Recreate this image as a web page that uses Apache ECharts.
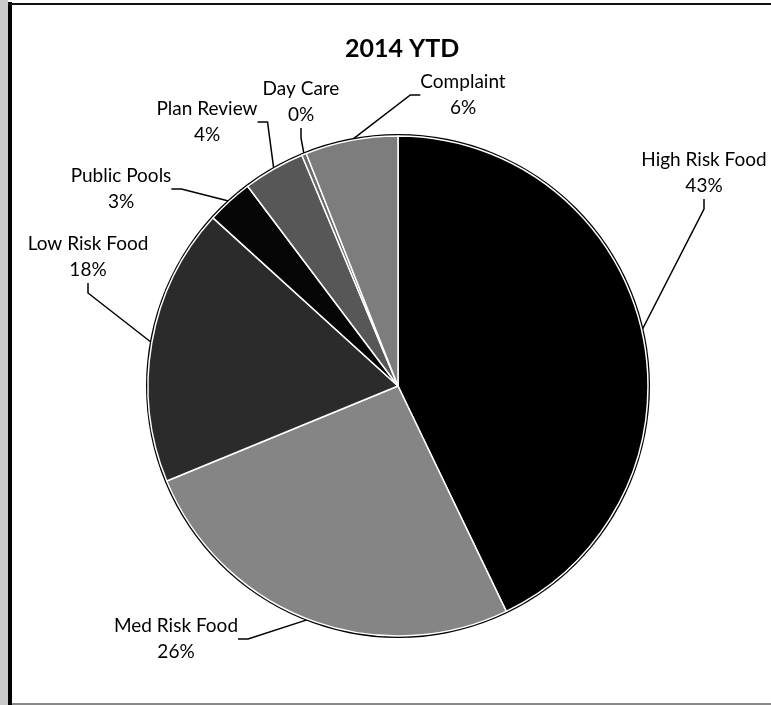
<!DOCTYPE html>
<html>
<head>
<meta charset="utf-8">
<style>
html,body{margin:0;padding:0;background:#fff;}
#chart{width:771px;height:705px;}
</style>
<script src="https://cdn.jsdelivr.net/npm/echarts@6/dist/echarts.min.js"></script>
</head>
<body>
<div id="chart"></div>
<script>
// Data
const categories = ['High Risk Food','Med Risk Food','Low Risk Food','Public Pools','Plan Review','Day Care','Complaint'];
const values = [43, 26, 18, 3, 4, 0.3, 6];
const titleText = '2014 YTD';

// Styles (not data)
const colors = ['#000000','#858585','#2b2b2b','#050505','#575757','#6a6a6a','#7d7d7d'];
const labelCenters = [[704,173],[176,639],[88,257],[121,189],[207,122],[301,102],[463,95]];

const chart = echarts.init(document.getElementById('chart'), null, {renderer:'canvas'});
const font = 'Lato, "Open Sans", sans-serif';

chart.setOption({
  animation:false,
  backgroundColor:'#fff',
  title:{
    text:titleText, left:340, top:31,
    textStyle:{fontFamily:font,fontSize:25,fontWeight:'bold',color:'#000'}
  },
  graphic:[
    {type:'rect',shape:{x:0,y:0,width:8,height:705},style:{fill:'#c8c8c8'},silent:true},
    {type:'rect',shape:{x:8,y:2,width:4,height:703},style:{fill:'#000'},silent:true},
    {type:'rect',shape:{x:8,y:3,width:763,height:2},style:{fill:'#111'},silent:true},
    {type:'rect',shape:{x:12,y:703,width:759,height:2},style:{fill:'#888'},silent:true}
  ],
  series:[
    {
      type:'pie', silent:true, z:1,
      center:[398,386], radius:252,
      data:[{value:1,name:''}],
      itemStyle:{color:'#000'},
      label:{show:false}, labelLine:{show:false}
    },
    {
      type:'pie', z:2,
      center:[398,386], radius:250,
      startAngle:90, clockwise:true,
      percentPrecision:0,
      minAngle:0,
      avoidLabelOverlap:false,
      data:categories.map((c,i)=>({name:c,value:values[i],itemStyle:{color:colors[i]}})),
      itemStyle:{borderColor:'#fff',borderWidth:1.5},
      label:{
        show:true, position:'outside',
        formatter:'{b}\n{d}%',
        fontFamily:font, fontSize:19, lineHeight:26, color:'#000',
        align:'center'
      },
      labelLine:{show:true,length:20,length2:10,smooth:false,lineStyle:{color:'#000',width:1.5}},
      labelLayout:function(p){
        const c = labelCenters[p.dataIndex];
        return {x:c[0], y:c[1], align:'center', verticalAlign:'middle', hideOverlap:false, moveOverlap:null};
      }
    }
  ]
});
</script>
</body>
</html>
